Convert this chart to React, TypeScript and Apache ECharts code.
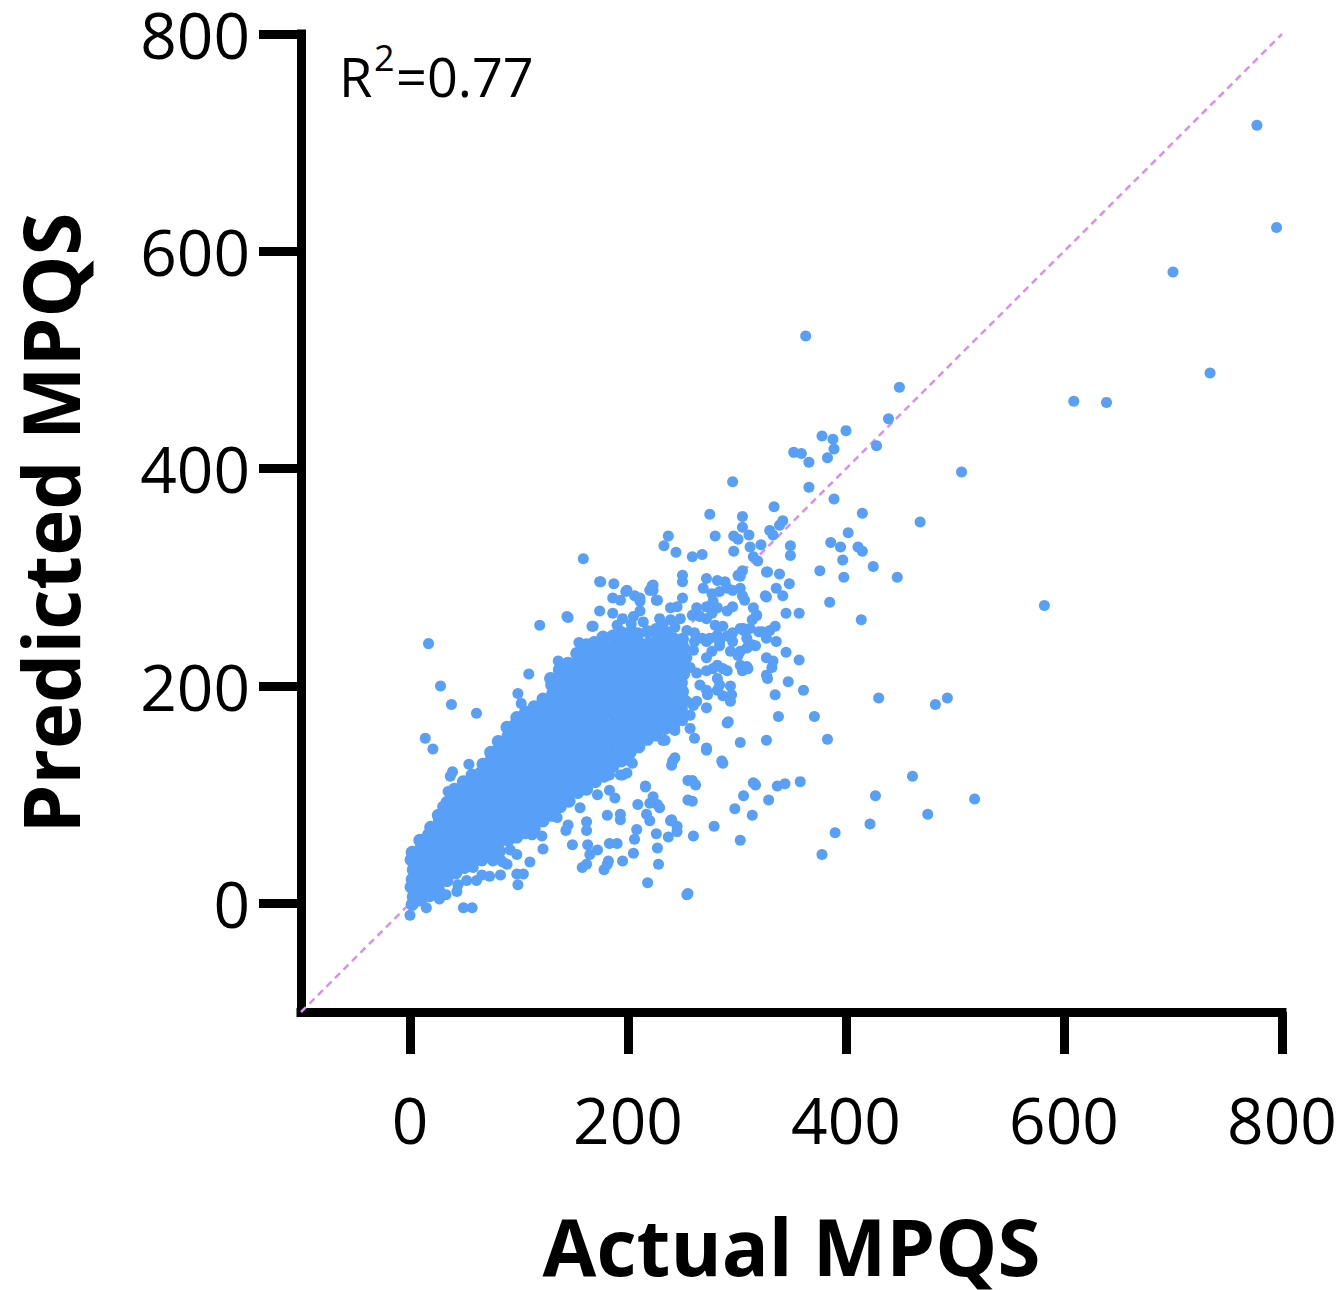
import { useEffect, useRef } from 'react';
import * as echarts from 'echarts';

const xTicks = [0, 200, 400, 600, 800];
const yTicks = [0, 200, 400, 600, 800];
const identityLine = [[-100, -100], [800, 800]];
const r2Parts = ['R', '2', '=0.77'];

// dense band of points close to the origin (read as a solid blob)
const coreCloud = [
  [2, -1], [3, 6], [1, 15], [2, 22], [3, 31], [1, 40], [2, 47],
  [10, 3], [9, 11], [11, 19], [10, 27], [9, 35], [11, 43], [10, 51], [9, 58],
  [18, 7], [17, 15], [19, 23], [18, 31], [17, 39], [19, 47], [18, 55], [17, 63], [19, 70],
  [26, 13], [25, 21], [27, 29], [26, 37], [25, 45], [27, 53], [26, 61], [25, 69], [27, 77], [26, 81],
  [34, 21], [33, 29], [35, 37], [34, 45], [33, 53], [35, 61], [34, 69], [33, 77], [35, 85], [34, 93],
  [42, 28], [41, 36], [43, 44], [42, 52], [41, 60], [43, 68], [42, 76], [41, 84], [43, 92], [42, 100], [41, 105],
  [50, 33], [49, 41], [51, 49], [50, 57], [49, 65], [51, 73], [50, 81], [49, 89], [51, 97], [50, 105], [49, 112],
  [58, 38], [57, 46], [59, 54], [58, 62], [57, 70], [59, 78], [58, 86], [57, 94], [59, 102], [58, 110], [57, 118],
  [66, 40], [65, 48], [67, 56], [66, 64], [65, 72], [67, 80], [66, 88], [65, 96], [67, 104], [66, 112], [65, 120], [67, 128],
  [74, 46], [73, 54], [75, 62], [74, 70], [73, 78], [75, 86], [74, 94], [73, 102], [75, 110], [74, 118], [73, 126], [75, 134], [74, 139],
  [82, 48], [81, 56], [83, 64], [82, 72], [81, 80], [83, 88], [82, 96], [81, 104], [83, 112], [82, 120], [81, 128], [83, 136], [82, 144], [81, 149],
  [90, 58], [89, 66], [91, 74], [90, 82], [89, 90], [91, 98], [90, 106], [89, 114], [91, 122], [90, 130], [89, 138], [91, 146], [90, 154], [89, 162],
  [98, 61], [97, 69], [99, 77], [98, 85], [97, 93], [99, 101], [98, 109], [97, 117], [99, 125], [98, 133], [97, 141], [99, 149], [98, 157], [97, 165], [98, 171],
  [106, 65], [105, 73], [107, 81], [106, 89], [105, 97], [107, 105], [106, 113], [105, 121], [107, 129], [106, 137], [105, 145], [107, 153], [106, 161], [105, 169], [106, 176],
  [114, 69], [113, 77], [115, 85], [114, 93], [113, 101], [115, 109], [114, 117], [113, 125], [115, 133], [114, 141], [113, 149], [115, 157], [114, 165], [113, 173], [114, 181],
  [122, 76], [121, 84], [123, 92], [122, 100], [121, 108], [123, 116], [122, 124], [121, 132], [123, 140], [122, 148], [121, 156], [123, 164], [122, 172], [121, 180], [122, 188],
  [130, 81], [129, 89], [131, 97], [130, 105], [129, 113], [131, 121], [130, 129], [129, 137], [131, 145], [130, 153], [129, 161], [131, 169], [130, 177], [129, 185], [131, 193], [130, 201], [129, 207],
  [138, 89], [137, 97], [139, 105], [138, 113], [137, 121], [139, 129], [138, 137], [137, 145], [139, 153], [138, 161], [137, 169], [139, 177], [138, 185], [137, 193], [139, 201], [138, 209], [137, 215],
  [146, 94], [145, 102], [147, 110], [146, 118], [145, 126], [147, 134], [146, 142], [145, 150], [147, 158], [146, 166], [145, 174], [147, 182], [146, 190], [145, 198], [147, 206], [146, 214], [145, 221],
  [154, 102], [153, 110], [155, 118], [154, 126], [153, 134], [155, 142], [154, 150], [153, 158], [155, 166], [154, 174], [153, 182], [155, 190], [154, 198], [153, 206], [155, 214], [154, 222], [153, 230],
  [162, 105], [161, 113], [163, 121], [162, 129], [161, 137], [163, 145], [162, 153], [161, 161], [163, 169], [162, 177], [161, 185], [163, 193], [162, 201], [161, 209], [163, 217], [162, 225], [161, 233], [162, 238],
  [170, 112], [169, 120], [171, 128], [170, 136], [169, 144], [171, 152], [170, 160], [169, 168], [171, 176], [170, 184], [169, 192], [171, 200], [170, 208], [169, 216], [171, 224], [170, 232], [169, 240],
  [178, 117], [177, 125], [179, 133], [178, 141], [177, 149], [179, 157], [178, 165], [177, 173], [179, 181], [178, 189], [177, 197], [179, 205], [178, 213], [177, 221], [179, 229], [178, 237], [177, 245],
  [186, 126], [185, 134], [187, 142], [186, 150], [185, 158], [187, 166], [186, 174], [185, 182], [187, 190], [186, 198], [185, 206], [187, 214], [186, 222], [185, 230], [187, 238], [186, 246],
  [194, 131], [193, 139], [195, 147], [194, 155], [193, 163], [195, 171], [194, 179], [193, 187], [195, 195], [194, 203], [193, 211], [195, 219], [194, 227], [193, 235], [195, 243], [194, 249],
  [202, 139], [201, 147], [203, 155], [202, 163], [201, 171], [203, 179], [202, 187], [201, 195], [203, 203], [202, 211], [201, 219], [203, 227], [202, 235], [201, 243], [203, 250],
  [210, 144], [209, 152], [211, 160], [210, 168], [209, 176], [211, 184], [210, 192], [209, 200], [211, 208], [210, 216], [209, 224], [211, 232], [210, 240], [209, 248],
  [218, 151], [217, 159], [219, 167], [218, 175], [217, 183], [219, 191], [218, 199], [217, 207], [219, 215], [218, 223], [217, 231], [219, 239], [218, 250],
  [226, 155], [225, 163], [227, 171], [226, 179], [225, 187], [227, 195], [226, 203], [225, 211], [227, 219], [226, 227], [225, 235], [227, 243], [226, 252],
  [234, 161], [233, 169], [235, 177], [234, 185], [233, 193], [235, 201], [234, 209], [233, 217], [235, 225], [234, 233], [233, 241], [235, 249],
  [242, 164], [241, 172], [243, 180], [242, 188], [241, 196], [243, 204], [242, 212], [241, 220], [243, 228], [242, 236], [241, 244],
  [250, 171], [249, 179], [251, 187], [250, 195], [249, 203], [251, 211], [250, 219], [249, 227], [251, 235], [250, 243]
];

// scattered points just below the band
const lowerEdge = [
  [0, -11], [15, -4], [27, 4], [33, 8], [43, 11], [44, 17], [49, -4], [57, -4], [52, 21], [58, 33],
  [61, 21], [66, 26], [73, 25], [83, 26], [83, 40], [89, 36], [92, 49], [98, 45], [99, 17], [98, 27],
  [104, 27], [76, 39], [85, 38], [110, 38], [112, 63], [121, 62], [122, 50], [135, 79], [143, 67], [145, 72],
  [149, 54], [156, 88], [158, 33], [162, 36], [162, 67], [162, 75], [163, 54], [165, 45], [172, 49], [172, 100],
  [178, 31], [181, 36], [182, 39], [183, 55], [190, 55], [181, 81], [193, 82], [193, 77], [183, 104], [188, 97],
  [183, 118], [195, 118], [195, 39], [204, 129], [205, 46], [206, 59], [208, 68], [209, 91], [216, 107], [217, 82],
  [220, 76], [223, 98], [220, 92], [227, 91], [229, 88], [218, 19], [227, 51], [228, 36], [226, 64], [237, 61],
  [239, 76], [245, 71], [245, 66], [240, 77], [254, 8], [260, 62], [279, 71], [303, 58], [232, 150], [241, 131],
  [243, 134], [240, 127], [255, 113], [255, 95], [259, 94], [259, 113], [262, 109], [272, 141], [286, 131], [287, 129],
  [199, 120], [202, 131], [193, 118], [234, 150], [216, 108], [243, 159], [232, 150], [261, 152], [257, 161], [272, 143]
];

// scattered points just above the band
const upperEdge = [
  [17, 239], [28, 200], [38, 183], [61, 175], [14, 152], [21, 142], [54, 128], [39, 121], [37, 117], [35, 103],
  [30, 89], [99, 193], [102, 184], [109, 211], [119, 256], [136, 223], [145, 263], [155, 240], [167, 255], [159, 317],
  [175, 296], [187, 294], [198, 287], [206, 283], [211, 278], [223, 293], [223, 288], [227, 279], [222, 292], [226, 279],
  [186, 281], [193, 279], [211, 281], [199, 288], [205, 264], [211, 269], [195, 262], [186, 267], [174, 269], [168, 255],
  [239, 272], [245, 273], [248, 262], [239, 261], [232, 256], [220, 288], [144, 264], [174, 296], [214, 259], [229, 262],
  [243, 254], [203, 257], [190, 256]
];

// the looser end of the band, x between 230 and 350
const bandTail = [
  [237, 338], [233, 329], [244, 323], [259, 319], [268, 321], [280, 338], [297, 338], [301, 335], [297, 324], [312, 328],
  [322, 330], [315, 319], [319, 315], [333, 339], [330, 343], [305, 346], [311, 339], [250, 302], [250, 296], [250, 281],
  [272, 299], [282, 297], [289, 296], [291, 290], [296, 288], [301, 302], [305, 306], [269, 290], [277, 285], [284, 287],
  [303, 290], [305, 283], [307, 279], [315, 272], [318, 265], [314, 261], [278, 278], [282, 272], [291, 269], [296, 273],
  [272, 273], [277, 267], [272, 262], [280, 256], [263, 272], [259, 265], [266, 264], [254, 251], [261, 249], [268, 244],
  [272, 241], [282, 247], [291, 246], [296, 249], [306, 251], [309, 244], [314, 238], [284, 237], [294, 232], [301, 228],
  [261, 241], [260, 233], [309, 235], [317, 237], [272, 226], [282, 219], [291, 214], [254, 226], [257, 217], [263, 212],
  [272, 214], [282, 207], [305, 214], [309, 218], [266, 201], [272, 196], [282, 196], [287, 191], [294, 200], [295, 192],
  [294, 186], [254, 186], [260, 182], [257, 173], [272, 180], [291, 166], [303, 148], [248, 173], [250, 168], [275, 244],
  [284, 241], [296, 241], [323, 250], [330, 251], [335, 255], [327, 244], [336, 241], [277, 232], [303, 232], [278, 216],
  [287, 216], [284, 201], [303, 219], [310, 216], [327, 226], [333, 223], [327, 210], [263, 186], [273, 192], [292, 167],
  [327, 150], [335, 192], [338, 172], [306, 253], [320, 250], [327, 282], [342, 283], [345, 267], [357, 267], [318, 265],
  [345, 231], [357, 224], [310, 236], [306, 215], [328, 207], [347, 204], [361, 196], [332, 217], [348, 294], [339, 303],
  [328, 305], [349, 329], [349, 320], [327, 305], [326, 283], [336, 290], [303, 301], [287, 255], [303, 253], [312, 253],
  [315, 111], [317, 109], [337, 108], [344, 110], [358, 112], [306, 99], [329, 95], [298, 87], [314, 81]
];

// points far from the band
const farPoints = [
  [777, 716], [795, 622], [700, 581], [734, 488], [609, 462], [639, 461], [363, 522], [449, 475], [439, 446], [400, 435],
  [378, 430], [388, 427], [389, 418], [352, 415], [359, 414], [366, 406], [383, 410], [428, 421], [506, 397], [296, 388],
  [366, 383], [389, 372], [334, 365], [415, 359], [468, 351], [275, 358], [305, 356], [342, 352], [339, 348], [402, 341],
  [386, 332], [395, 328], [411, 328], [415, 324], [397, 316], [425, 310], [376, 306], [398, 300], [447, 300], [385, 277],
  [582, 274], [414, 261], [371, 172], [383, 151], [430, 189], [482, 183], [493, 189], [461, 117], [518, 96], [475, 82],
  [427, 99], [422, 73], [390, 65], [378, 45], [255, 9]
];

const App = () => {
  const chartRef = useRef<HTMLDivElement>(null);

  useEffect(() => {
    if (!chartRef.current) return;
    document.body.style.margin = '0';
    const myChart = echarts.init(chartRef.current, null, { renderer: 'svg' });
    const font = 'Open Sans';
    const dotColor = '#589ff7';

    const axisCommon = {
      type: 'value',
      min: -100,
      max: 800,
      axisLine: { show: true, onZero: false, lineStyle: { color: '#000', width: 9, cap: 'square' } },
      splitLine: { show: false },
      nameLocation: 'middle',
      nameTextStyle: { fontSize: 78, fontWeight: 'bold', fontFamily: font, color: '#000' }
    };

    const option = {
      animation: false,
      grid: { left: 301, right: 62, top: 34, bottom: 275 },
      xAxis: {
        ...axisCommon,
        name: 'Actual MPQS',
        nameGap: 195,
        axisTick: { show: true, customValues: xTicks, length: 42, lineStyle: { color: '#000', width: 9 } },
        axisLabel: { customValues: xTicks, fontSize: 64, fontFamily: font, color: '#000', margin: 75 }
      },
      yAxis: {
        ...axisCommon,
        name: 'Predicted MPQS',
        nameGap: 212,
        axisTick: { show: true, customValues: yTicks, length: 42, lineStyle: { color: '#000', width: 9 } },
        axisLabel: { customValues: yTicks, fontSize: 64, fontFamily: font, color: '#000', margin: 51 }
      },
      series: [
        {
          type: 'line',
          data: identityLine,
          symbol: 'none',
          silent: true,
          z: 1,
          lineStyle: { color: '#d98ef0', width: 2.5, type: [7, 5] }
        },
        {
          // the solid core is drawn with slightly larger dots so it reads as one blob
          type: 'scatter',
          data: coreCloud,
          symbol: 'circle',
          symbolSize: 13,
          z: 2,
          itemStyle: { color: dotColor, opacity: 1 }
        },
        {
          type: 'scatter',
          data: [...lowerEdge, ...upperEdge, ...bandTail, ...farPoints],
          symbol: 'circle',
          symbolSize: 11,
          z: 2,
          itemStyle: { color: dotColor, opacity: 1 }
        }
      ],
      graphic: [
        { type: 'text', x: 339, y: 76, style: { text: r2Parts[0], fontSize: 54, fontFamily: font, fill: '#000', verticalAlign: 'middle' } },
        { type: 'text', x: 374, y: 57, style: { text: r2Parts[1], fontSize: 36, fontFamily: font, fill: '#000', verticalAlign: 'middle' } },
        { type: 'text', x: 396, y: 76, style: { text: r2Parts[2], fontSize: 54, fontFamily: font, fill: '#000', verticalAlign: 'middle' } }
      ]
    };

    myChart.setOption(option);

    return () => {
      myChart.dispose();
    };
  }, []);

  return <div ref={chartRef} style={{ width: 1344, height: 1290 }} />;
};

export default App;
